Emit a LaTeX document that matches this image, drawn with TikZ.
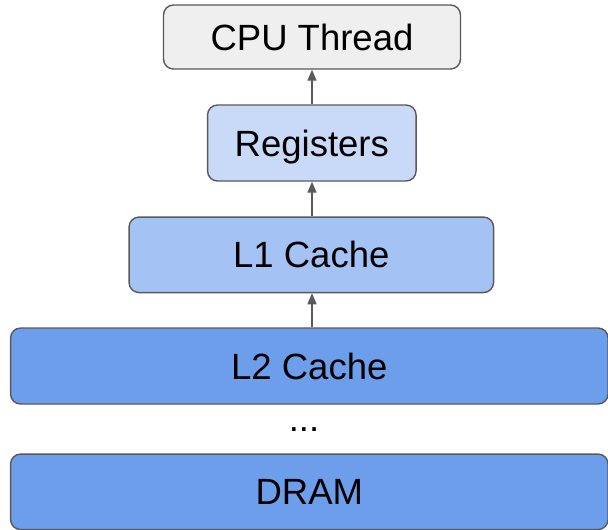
\documentclass[tikz,border=0pt]{standalone}
\usepackage{fontspec}
\setmainfont{Liberation Sans}
\usetikzlibrary{arrows.meta}
\definecolor{edge}{HTML}{595959}
\definecolor{cpufill}{HTML}{EFEFEF}
\definecolor{regfill}{HTML}{C9DAF8}
\definecolor{lonefill}{HTML}{A4C2F4}
\definecolor{memfill}{HTML}{6D9EEB}
\tikzset{
  level/.style={draw=edge, line width=1.4pt, rounded corners=10pt,
    inner sep=0pt, font=\fontsize{36.5}{44}\selectfont, text=black,
    text height=26pt, text depth=0pt},
  up/.style={draw=edge, line width=1.3pt, -{Triangle[length=11pt,width=9pt]}}
}
\begin{document}
\begin{tikzpicture}[x=1pt,y=-1pt]
  \useasboundingbox (0,0) rectangle (608,530);
  \clip (0,0) rectangle (608,530);
  \node[level, fill=cpufill, minimum width=297pt, minimum height=64pt] (cpu) at (312,37) {CPU Thread};
  \node[level, fill=regfill, minimum width=208.5pt, minimum height=76pt] (reg) at (311.8,143) {Registers};
  \node[level, fill=lonefill, minimum width=364.5pt, minimum height=75.5pt] (lone) at (311.3,254.8) {L1 Cache};
  \node[level, fill=memfill, minimum width=597.5pt, minimum height=76pt] (ltwo) at (309.3,366) {L2 Cache};
  \node[level, fill=memfill, minimum width=597.5pt, minimum height=75.5pt] (dram) at (309.3,491.8) {DRAM};
  \node[font=\fontsize{36.5}{44}\selectfont, inner sep=0pt, anchor=base] (dots) at (304,431) {...};
  \draw[up] (ltwo.north -| 312,0) -- (lone.south -| 312,0);
  \draw[up] (lone.north -| 312,0) -- (reg.south -| 312,0);
  \draw[up] (reg.north -| 312,0) -- (cpu.south -| 312,0);
\end{tikzpicture}
\end{document}
